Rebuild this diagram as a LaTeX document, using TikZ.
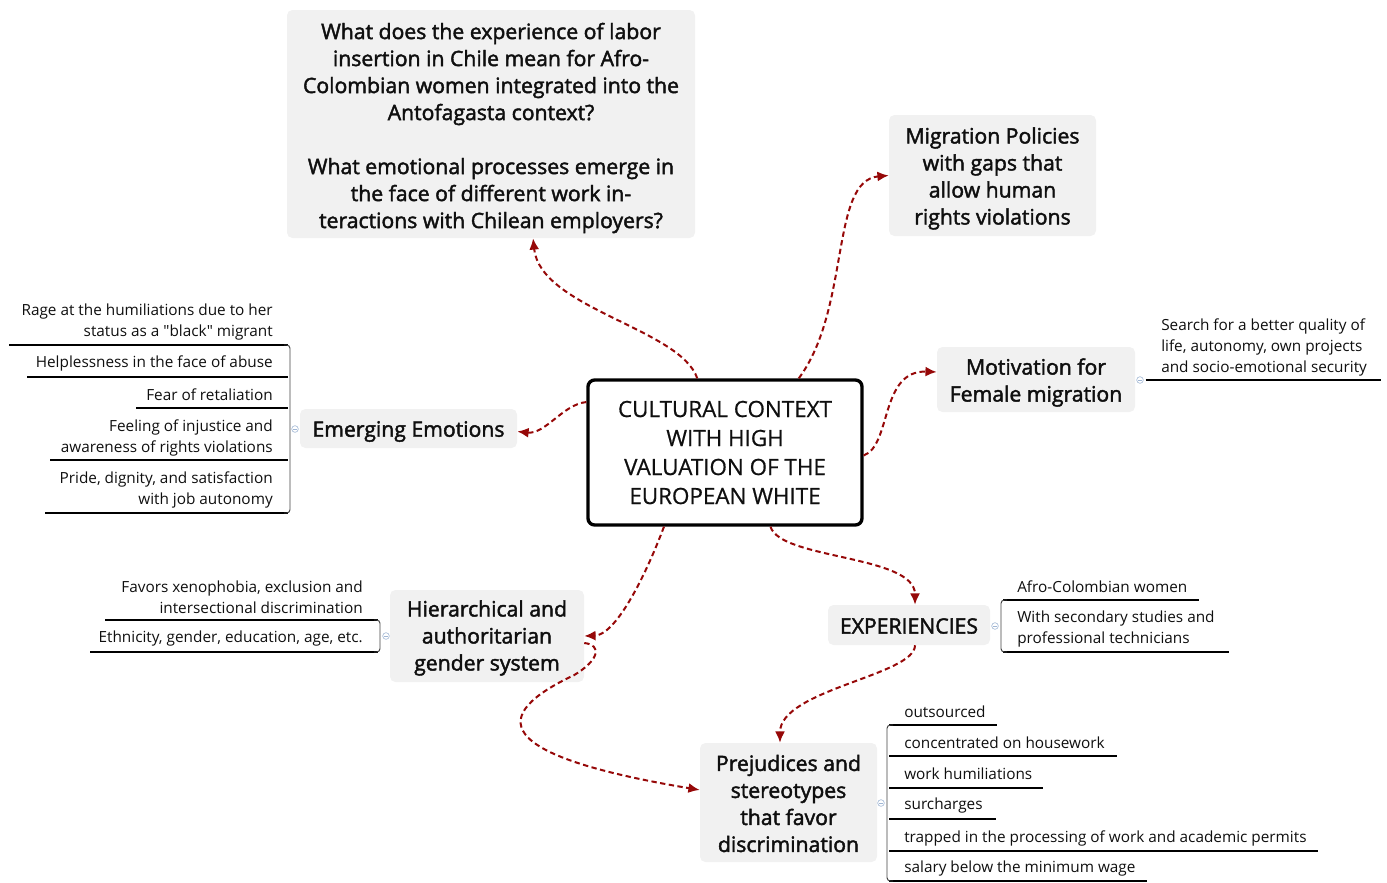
\documentclass[tikz,border=0pt]{standalone}
\usepackage{fontspec}
\setmainfont{Open Sans}
\newfontfamily\topicfont{Open Sans}[FakeBold=2]
\newfontfamily\hubfont{Open Sans}[FakeBold=0.6]
\newfontfamily\leaffont{Open Sans}[Ligatures=TeXOff]
\usetikzlibrary{arrows.meta,calc}

\definecolor{linkred}{RGB}{150,8,8}
\definecolor{boxgray}{RGB}{241,241,241}
\definecolor{inkc}{RGB}{15,15,15}
\definecolor{knobc}{RGB}{160,182,212}

\tikzset{
  topic/.style={fill=boxgray, rounded corners=4pt, inner sep=0pt},
  topictext/.style={inner sep=0pt, align=center, text=inkc,
    font=\topicfont\fontsize{15.9}{20.25}\selectfont},
  hub/.style={draw=black, line width=2.5pt, rounded corners=5pt, fill=white,
    inner sep=0pt, align=center, text=inkc, font=\hubfont\fontsize{16.8}{21.75}\selectfont},
  leafr/.style={inner sep=0pt, align=right, text=inkc, font=\leaffont\fontsize{11.5}{15.75}\selectfont},
  leafl/.style={inner sep=0pt, align=left, text=inkc, font=\leaffont\fontsize{11.5}{15.75}\selectfont},
  uline/.style={line width=1.5pt, black},
  fork/.style={line width=0.7pt, black!75, rounded corners=2.5pt},
  knob/.style={circle, draw=knobc, line width=0.45pt, minimum size=5pt, inner sep=0pt, fill=white,
    path picture={\draw[knobc, line width=0.45pt] ([xshift=-1.4pt]path picture bounding box.center) -- ([xshift=1.4pt]path picture bounding box.center);}},
  link/.style={draw=linkred, line width=1.5pt, dash pattern=on 4pt off 2.6pt,
    -{Latex[length=8.5pt,width=7.5pt]}},
}

\begin{document}
\begin{tikzpicture}[x=0.75pt, y=-0.75pt]
\useasboundingbox (0,0) rectangle (1387,882);

% ---------- central topic ----------
\node[hub, minimum width=205.5pt, minimum height=108.75pt] (hub) at (725,452.5)
  {CULTURAL CONTEXT\\WITH HIGH\\VALUATION OF THE\\EUROPEAN WHITE};

% ---------- main topics: boxes, then their labels ----------
\node[topic, minimum width=306pt, minimum height=171pt] (q) at (491,124) {};
\node[topictext] (qt) at ($(q.center)+(0,4)$)
  {What does the experience of labor\\insertion in Chile mean for Afro-\\Colombian women integrated into the\\Antofagasta context?\\[20.25pt]What emotional processes emerge in\\the face of different work in-\\teractions with Chilean employers?};

\node[topic, minimum width=155.25pt, minimum height=90.75pt] (mig) at (992.5,175.5) {};
\node[topictext] (migt) at ($(mig.center)+(0,3)$)
  {Migration Policies\\with gaps that\\allow human\\rights violations};

\node[topic, minimum width=148.5pt, minimum height=48.75pt] (mot) at (1036,379.5) {};
\node[topictext] (mott) at ($(mot.center)+(0,3)$)
  {Motivation for\\Female migration};

\node[topic, minimum width=162.75pt, minimum height=29.25pt] (emo) at (408.5,428.5) {};
\node[topictext] (emot) at ($(emo.center)+(0,3)$) {Emerging Emotions};

\node[topic, minimum width=145.5pt, minimum height=69pt] (hier) at (487,636) {};
\node[topictext] (hiert) at ($(hier.center)+(0,2)$)
  {Hierarchical and\\authoritarian\\gender system};

\node[topic, minimum width=121.5pt, minimum height=30pt] (exp) at (909,625) {};
\node[topictext] (expt) at ($(exp.center)+(0,1)$) {EXPERIENCIES};

\node[topic, minimum width=132.75pt, minimum height=89.25pt] (prej) at (788.5,802.5) {};
\node[topictext] (prejt) at ($(prej.center)+(0,1)$)
  {Prejudices and\\stereotypes\\that favor\\discrimination};

% ---------- connectors ----------
\draw[link] ($(hub.north west)!0.40!(hub.north east)$) .. controls +(-17,-50) and +(7,70) .. ($(q.south west)!0.603!(q.south east)$);
\draw[link] ($(hub.north west)!0.766!(hub.north east)$) .. controls +(52,-70) and +(-59,5) .. (mig.west);
\draw[link] ($(hub.north east)!0.52!(hub.south east)$) .. controls +(28,-10) and +(-57,-2) .. ($(mot.north west)!0.385!(mot.south west)$);
\draw[link] ($(hub.north west)!0.16!(hub.south west)$) .. controls +(-23,2) and +(28,3) .. ($(emo.east)+(0,3)$);
\draw[link] ($(hub.south west)!0.28!(hub.south east)$) .. controls +(-20,53) and +(31,-1) .. (hier.east);
\draw[link] ($(hub.south west)!0.664!(hub.south east)$) .. controls +(10,33) and +(0,-50) .. ($(exp.north west)!0.537!(exp.north east)$);
\draw[link] ($(exp.south west)!0.537!(exp.south east)$) .. controls +(0,30) and +(0,-53) .. ($(prej.north west)!0.452!(prej.north east)$);
\draw[link] ($(hier.east)+(0,7)$) .. controls +(18,2) and +(25,-15) .. ++(-10,32)
  .. controls +(-85,40) and +(-210,-35) .. ($(prej.north west)!0.395!(prej.south west)$);

% ---------- Emerging Emotions: leaves ----------
\node[leafr, anchor=east] (e1) at (273,322.5) {Rage at the humiliations due to her\\status as a "black" migrant};
\node[leafr, anchor=east] (e2) at (273,363.5) {Helplessness in the face of abuse};
\node[leafr, anchor=east] (e3) at (273,394.5) {Fear of retaliation};
\node[leafr, anchor=east] (e4) at (273,437.5) {Feeling of injustice and\\awareness of rights violations};
\node[leafr, anchor=east] (e5) at (273,490) {Pride, dignity, and satisfaction\\with job autonomy};
\draw[uline] (9,345) -- (288,345);
\draw[uline] (27,377) -- (288,377);
\draw[uline] (136,408) -- (288,408);
\draw[uline] (50,460) -- (288,460);
\draw[uline] (45,513) -- (288,513);
\draw[fork] (284,345) -- (290,345) -- (290,513) -- (284,513);
\node[knob] (k1) at (295,429) {};

% ---------- Hierarchical system: leaves ----------
\node[leafr, anchor=east] (h1) at (363,597.5) {Favors xenophobia, exclusion and\\intersectional discrimination};
\node[leafr, anchor=east] (h2) at (363,639) {Ethnicity, gender, education, age, etc.};
\draw[uline] (105,620) -- (378,620);
\draw[uline] (90,652) -- (378,652);
\draw[fork] (374,620) -- (380,620) -- (380,652) -- (374,652);
\node[knob] (k2) at (386,636) {};

% ---------- Motivation: leaf ----------
\node[leafl, anchor=west] (m1) at (1161,347) {Search for a better quality of\\life, autonomy, own projects\\and socio-emotional security};
\node[knob] (k3) at (1140,380) {};
\draw[uline] (k3.east) ++(2,0) -- (1381,380);

% ---------- Experiencies: leaves ----------
\node[leafl, anchor=west] (x1) at (1017,587) {Afro-Colombian women};
\node[leafl, anchor=west] (x2) at (1017,629) {With secondary studies and\\professional technicians};
\draw[uline] (1003,600) -- (1199,600);
\draw[uline] (1003,652) -- (1229,652);
\draw[fork] (1007,600) -- (1001,600) -- (1001,652) -- (1007,652);
\node[knob] (k4) at (995,626) {};

% ---------- Prejudices: leaves ----------
\node[leafl, anchor=west] (p1) at (904,712) {outsourced};
\node[leafl, anchor=west] (p2) at (904,743) {concentrated on housework};
\node[leafl, anchor=west] (p3) at (904,774) {work humiliations};
\node[leafl, anchor=west] (p4) at (904,806) {surcharges};
\node[leafl, anchor=west] (p5) at (904,838) {trapped in the processing of work and academic permits};
\node[leafl, anchor=west] (p6) at (904,869) {salary below the minimum wage};
\draw[uline] (889,725) -- (997,725);
\draw[uline] (889,756) -- (1117,756);
\draw[uline] (889,788) -- (1043,788);
\draw[uline] (889,819) -- (996,819);
\draw[uline] (889,851) -- (1318,851);
\draw[uline] (889,881) -- (1147,881);
\draw[fork] (893,725) -- (887,725) -- (887,881) -- (893,881);
\node[knob] (k5) at (881,803) {};
\end{tikzpicture}
\end{document}
